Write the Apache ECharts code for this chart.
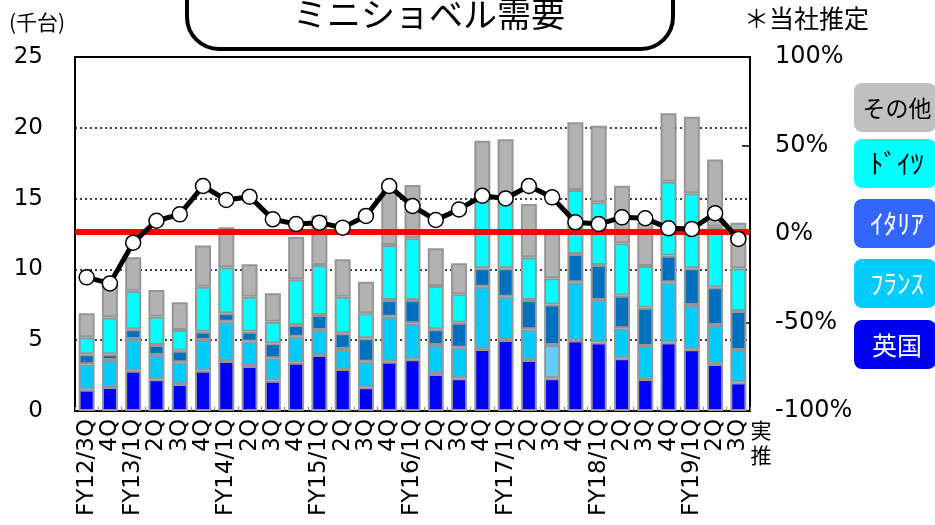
<!DOCTYPE html>
<html>
<head>
<meta charset="utf-8">
<script src="https://cdn.jsdelivr.net/npm/echarts@6/dist/echarts.min.js"></script>
<style>
  html, body { margin: 0; padding: 0; background: #fff; }
  #chart { width: 935px; height: 525px; }
</style>
</head>
<body>
<div id="chart"></div>
<script>
// Quarter labels
const categories = ['FY12/3Q','4Q','FY13/1Q','2Q','3Q','4Q','FY14/1Q','2Q','3Q','4Q',
  'FY15/1Q','2Q','3Q','4Q','FY16/1Q','2Q','3Q','4Q','FY17/1Q','2Q','3Q','4Q',
  'FY18/1Q','2Q','3Q','4Q','FY19/1Q','2Q','3Q'];

// Mini excavator demand by country (thousand units)
const uk      = [1.5,1.7,2.85,2.24,1.9,2.85,3.53,3.18,2.14,3.41,3.95,2.97,1.67,3.48,3.65,2.61,2.31,4.38,5.01,3.6,2.31,4.97,4.83,3.72,2.26,4.83,4.36,3.32,2.02];
const france  = [1.8,1.9,2.23,1.71,1.54,2.16,2.78,1.72,1.58,1.84,1.77,1.41,1.81,3.18,2.54,2.05,2.16,4.4,3.06,2.17,2.35,4.12,3.01,2.12,2.33,4.26,3.13,2.75,2.29];
const italy   = [0.7,0.4,0.69,0.71,0.82,0.59,0.59,0.7,1.06,0.82,1.06,1.11,1.65,1.18,1.65,1.11,1.77,1.3,2.01,2.07,2.87,2.0,2.47,2.3,2.71,1.88,2.59,2.67,2.75];
const germany = [1.2,2.6,2.73,2.0,1.46,3.18,3.25,2.47,1.53,3.23,3.53,2.58,1.77,3.88,4.36,3.06,2.0,4.75,4.59,3.01,1.84,4.52,4.43,3.7,2.94,5.22,5.29,4.28,3.02];
const others  = [1.7,2.4,2.35,1.89,1.96,2.9,2.82,2.29,2.0,3.01,3.49,2.64,2.23,4.08,3.76,2.66,2.19,4.26,4.52,3.77,3.18,4.78,5.41,4.07,3.06,4.83,5.41,4.75,3.22];

// Year-on-year change (%)
const yoy = [-24.5,-27.9,-4.9,7.5,11.1,27.1,19.2,21.1,8.3,5.6,6.4,3.6,10.2,27.1,15.8,7.9,13.9,21.6,20.1,27.1,20.7,6.6,5.6,9.4,8.9,3.2,2.8,11.7,-2.8];

// Reference line on the % axis
const baseLine = 1;

// Axis ticks
const leftTicks  = { min: 0, max: 25, interval: 5 };
const rightTicks = { min: -100, max: 100, interval: 50 };

const seriesNames = ['英国', 'フランス', 'イタリア', 'ドイツ', 'その他'];
const barColors   = ['#0000FF', '#00CCFF', '#0070C0', '#00FFFF', '#B2B2B2'];
const legendItems = [
  { label: 'その他', fill: '#C0C0C0', text: '#000', size: 23 },
  { label: 'ﾄﾞｲﾂ',  fill: '#00FFFF', text: '#000', size: 27 },
  { label: 'ｲﾀﾘｱ',  fill: '#3366FF', text: '#fff', size: 27 },
  { label: 'ﾌﾗﾝｽ',  fill: '#00CCFF', text: '#fff', size: 27 },
  { label: '英国',   fill: '#0000F0', text: '#fff', size: 25 }
];

const latin = "'DejaVu Sans', 'Noto Sans CJK JP', sans-serif";
const cjk = "'Noto Sans CJK JP', 'DejaVu Sans', sans-serif";

const chart = echarts.init(document.getElementById('chart'), null, { renderer: 'canvas' });

const barData = [uk, france, italy, germany, others];
const barSeries = barData.map((arr, i) => ({
  name: seriesNames[i],
  type: 'bar',
  stack: 'demand',
  barWidth: 16,
  z: 2,
  itemStyle: { color: barColors[i], borderColor: '#969696', borderWidth: 2 },
  data: arr.map((v, k) => {
    // FY17/3Q France shown in a lighter tone
    if (i === 1 && k === 20) return { value: v, itemStyle: { color: '#66CCFF' } };
    return v;
  })
}));

// Legend boxes on the right
const legendGraphics = [];
const legendTop = [83, 139, 199, 259, 320];
legendItems.forEach((it, i) => {
  legendGraphics.push({
    type: 'rect',
    shape: { x: 854, y: legendTop[i], width: 82, height: 49, r: 8 },
    style: { fill: it.fill },
    z: 10
  });
  legendGraphics.push({
    type: 'text',
    x: 897, y: legendTop[i] + 25,
    style: {
      text: it.label, fill: it.text,
      font: it.size + 'px ' + cjk,
      align: 'center', verticalAlign: 'middle'
    },
    z: 11
  });
});

const option = {
  animation: false,
  backgroundColor: '#fff',
  grid: {
    left: 75, right: 185, top: 57, bottom: 114,
    show: true, borderColor: '#000', borderWidth: 2, backgroundColor: 'transparent'
  },
  xAxis: {
    type: 'category',
    data: categories,
    axisLine: { lineStyle: { color: '#000', width: 2 } },
    axisTick: { show: true, inside: true, length: 4, lineStyle: { color: '#808080' } },
    axisLabel: {
      interval: 0, rotate: 90, margin: 8,
      fontSize: 23, color: '#000', fontFamily: latin
    }
  },
  yAxis: [
    {
      type: 'value',
      min: leftTicks.min, max: leftTicks.max, interval: leftTicks.interval,
      axisLine: { show: true, lineStyle: { color: '#000', width: 2 } },
      axisTick: { show: false },
      axisLabel: { fontSize: 23, color: '#000', margin: 32, fontFamily: latin },
      splitLine: { show: true, lineStyle: { color: '#000', width: 1.5, type: [2, 3] } }
    },
    {
      type: 'value',
      min: rightTicks.min, max: rightTicks.max, interval: rightTicks.interval,
      position: 'right',
      axisLine: { show: true, lineStyle: { color: '#000', width: 2 } },
      axisTick: { show: true, inside: true, length: 8, lineStyle: { color: '#000', width: 1.5 } },
      axisLabel: { formatter: '{value}%', fontSize: 24, color: '#000', margin: 25, fontFamily: latin },
      splitLine: { show: false }
    }
  ],
  series: [
    ...barSeries,
    {
      name: 'base',
      type: 'line',
      yAxisIndex: 1,
      data: [],
      z: 3,
      markLine: {
        silent: true,
        symbol: 'none',
        label: { show: false },
        lineStyle: { color: '#FF0000', width: 6, type: 'solid' },
        data: [{ yAxis: baseLine }]
      }
    },
    {
      name: '前年同期比',
      type: 'line',
      yAxisIndex: 1,
      data: yoy,
      z: 5,
      symbol: 'circle',
      symbolSize: 15,
      lineStyle: { color: '#000', width: 5 },
      itemStyle: { color: '#fff', borderColor: '#000', borderWidth: 1.5 }
    }
  ],
  graphic: [
    {
      type: 'rect',
      shape: { x: 187, y: -45, width: 486, height: 94, r: 32 },
      style: { fill: '#fff', stroke: '#000', lineWidth: 4 },
      z: 10
    },
    {
      type: 'text', x: 429, y: 14,
      style: { text: 'ミニショベル需要', font: '34px ' + cjk, fill: '#000', align: 'center', verticalAlign: 'middle' },
      z: 11
    },
    {
      type: 'text', x: 9, y: 22,
      style: { text: '(千台)', font: '21px ' + cjk, fill: '#000', align: 'left', verticalAlign: 'middle' },
      z: 11
    },
    {
      type: 'text', x: 744, y: 18,
      style: { text: '＊当社推定', font: '25px ' + cjk, fill: '#000', align: 'left', verticalAlign: 'middle' },
      z: 11
    },
    {
      type: 'text', x: 761, y: 430,
      style: { text: '実', font: '21px ' + cjk, fill: '#000', align: 'center', verticalAlign: 'middle' },
      z: 11
    },
    {
      type: 'text', x: 761, y: 455,
      style: { text: '推', font: '21px ' + cjk, fill: '#000', align: 'center', verticalAlign: 'middle' },
      z: 11
    },
    ...legendGraphics
  ]
};

chart.setOption(option);
</script>
</body>
</html>
